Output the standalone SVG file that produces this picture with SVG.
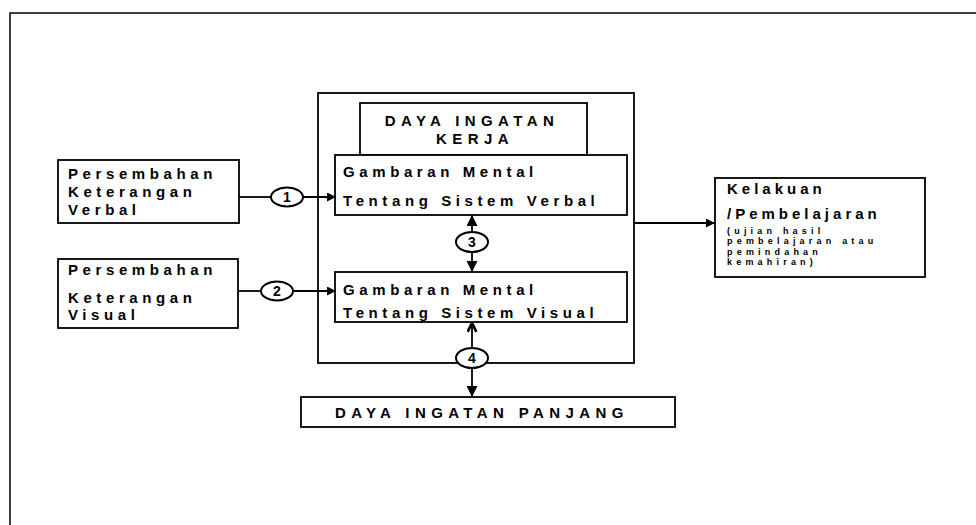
<svg xmlns="http://www.w3.org/2000/svg" width="976" height="525" viewBox="0 0 976 525">
<style>
  .bx{fill:#fff;stroke:#000;stroke-width:1.8}
  .t{font-family:"Liberation Sans",Arial,sans-serif;font-weight:bold;font-size:15px;fill:#000;letter-spacing:4.6px}
  .k{font-family:"Liberation Sans",Arial,sans-serif;font-weight:bold;font-size:15px;fill:#000;letter-spacing:4px}
  .c{font-family:"Liberation Sans",Arial,sans-serif;font-weight:bold;font-size:15px;fill:#000;letter-spacing:5.4px}
  .s{font-family:"Liberation Sans",Arial,sans-serif;font-weight:bold;font-size:9px;fill:#000;letter-spacing:4.2px}
  .n{font-family:"Liberation Sans",Arial,sans-serif;font-weight:bold;font-size:14px;fill:#000;text-anchor:middle}
  .ln{fill:none;stroke:#000;stroke-width:1.8}
  .el{fill:#fff;stroke:#000;stroke-width:2}
</style>
<defs>
  <marker id="ah" viewBox="0 0 10 10" refX="10" refY="5" markerWidth="9" markerHeight="9" markerUnits="userSpaceOnUse" orient="auto">
    <path d="M0,0 L10,5 L0,10 Z" fill="#000"/>
  </marker>
  <marker id="ahb" viewBox="0 0 10 10" refX="10" refY="5" markerWidth="11" markerHeight="11" markerUnits="userSpaceOnUse" orient="auto">
    <path d="M0,0 L10,5 L0,10 Z" fill="#000"/>
  </marker>
  <marker id="chev" viewBox="0 0 10 10" refX="9" refY="5" markerWidth="11" markerHeight="11" markerUnits="userSpaceOnUse" orient="auto">
    <path d="M1,1 L9,5 L1,9" fill="none" stroke="#000" stroke-width="2.4"/>
  </marker>
</defs>
<rect width="976" height="525" fill="#fff"/>
<g id="frame">
  <path d="M10,525 L10,13 L976,13" fill="none" stroke="#000" stroke-width="1.5"/>
</g>
<g id="working-memory">
  <rect class="bx" x="318" y="93" width="316" height="270"/>
</g>
<g id="daya-ingatan-kerja">
  <rect class="bx" x="360" y="103" width="227" height="52"/>
  <text class="c" x="472" y="126" text-anchor="middle">DAYA INGATAN</text>
  <text class="c" x="475" y="144" text-anchor="middle">KERJA</text>
</g>
<g id="gambaran-verbal">
  <rect class="bx" x="335" y="155" width="292" height="60"/>
  <text class="t" x="343" y="177">Gambaran Mental</text>
  <text class="t" x="343" y="206">Tentang Sistem Verbal</text>
</g>
<g id="gambaran-visual">
  <rect class="bx" x="335" y="272" width="292" height="50"/>
  <text class="t" x="343" y="295">Gambaran Mental</text>
  <text class="t" x="343" y="318">Tentang Sistem Visual</text>
</g>
<g id="persembahan-verbal">
  <rect class="bx" x="58" y="160" width="181" height="63"/>
  <text class="t" x="68" y="179">Persembahan</text>
  <text class="t" x="68" y="197">Keterangan</text>
  <text class="t" x="68" y="215">Verbal</text>
</g>
<g id="persembahan-visual">
  <rect class="bx" x="58" y="259" width="180" height="69"/>
  <text class="t" x="68" y="275">Persembahan</text>
  <text class="t" x="68" y="303">Keterangan</text>
  <text class="t" x="68" y="320">Visual</text>
</g>
<g id="kelakuan">
  <rect class="bx" x="715" y="178" width="210" height="99"/>
  <text class="k" x="727" y="194">Kelakuan</text>
  <text class="k" x="727" y="219">/Pembelajaran</text>
  <text class="s" x="727" y="233.5">(ujian hasil</text>
  <text class="s" x="727" y="244">pembelajaran atau</text>
  <text class="s" x="727" y="254.5">pemindahan</text>
  <text class="s" x="727" y="265">kemahiran)</text>
</g>
<g id="daya-ingatan-panjang">
  <rect class="bx" x="301" y="397" width="374" height="30"/>
  <text class="c" x="335" y="418">DAYA INGATAN PANJANG</text>
</g>
<g id="connectors">
  <line class="ln" x1="239" y1="197" x2="271" y2="197"/>
  <line class="ln" x1="303" y1="197" x2="336" y2="197" marker-end="url(#ah)"/>
  <line class="ln" x1="238" y1="291" x2="261" y2="291"/>
  <line class="ln" x1="293" y1="291" x2="336" y2="291" marker-end="url(#ah)"/>
  <line class="ln" x1="472" y1="233" x2="472" y2="215" marker-end="url(#ahb)"/>
  <line class="ln" x1="472" y1="252" x2="472" y2="272" marker-end="url(#ahb)"/>
  <line class="ln" x1="472" y1="348" x2="472" y2="323" marker-end="url(#chev)"/>
  <line class="ln" x1="472" y1="368" x2="472" y2="397" marker-end="url(#ahb)"/>
  <line class="ln" x1="634" y1="223" x2="715" y2="223" marker-end="url(#ah)"/>
  <g id="circle-1"><ellipse class="el" cx="287" cy="197" rx="16" ry="9.5"/><text class="n" x="287" y="202">1</text></g>
  <g id="circle-2"><ellipse class="el" cx="277" cy="291" rx="16" ry="9.5"/><text class="n" x="277" y="296">2</text></g>
  <g id="circle-3"><ellipse class="el" cx="472" cy="242" rx="16" ry="10"/><text class="n" x="472" y="247">3</text></g>
  <g id="circle-4"><ellipse class="el" cx="472" cy="358" rx="16" ry="10"/><text class="n" x="472" y="363">4</text></g>
</g>
</svg>
